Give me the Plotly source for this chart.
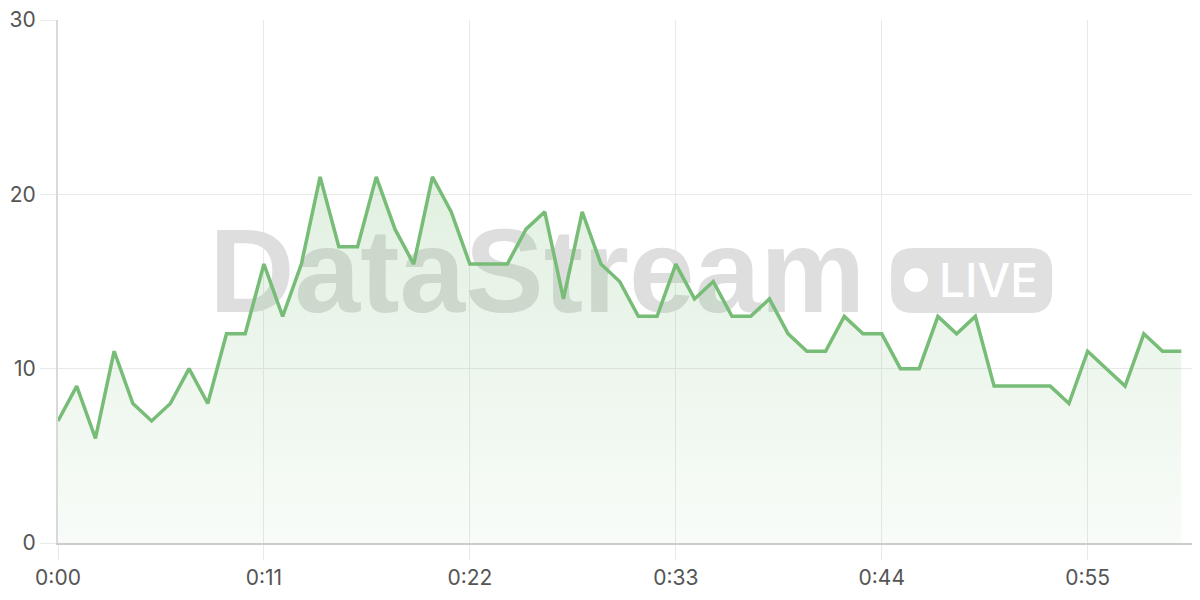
import plotly.graph_objects as go

# ---- data ----
seconds = list(range(61))
values = [7, 9, 6, 11, 8, 7, 8, 10, 8, 12, 12, 16, 13, 16, 21, 17, 17, 21, 18, 16,
          21, 19, 16, 16, 16, 18, 19, 14, 19, 16, 15, 13, 13, 16, 14, 15, 13, 13, 14, 12,
          11, 11, 13, 12, 12, 10, 10, 13, 12, 13, 9, 9, 9, 9, 8, 11, 10, 9, 12, 11, 11]
x_tick_vals = [0, 11, 22, 33, 44, 55]
x_tick_text = ["0:00", "0:11", "0:22", "0:33", "0:44", "0:55"]
y_tick_vals = [0, 10, 20, 30]
watermark_text = "DataStream"
badge_text = "LIVE"

LINE = "#77bc77"
GRID = "#e9e9e9"
TICKFONT = dict(family="Inter, Liberation Sans, sans-serif", size=21, color="#555555")

fig = go.Figure()

# watermark drawn beneath the data trace
fig.add_trace(go.Scatter(
    x=[25.6], y=[14.95], mode="text", text=[watermark_text],
    textposition="middle center",
    textfont=dict(family="Liberation Sans, Arial, sans-serif", size=118, color="#dedede", weight="bold"),
    hoverinfo="skip", showlegend=False,
))

fig.add_trace(go.Scatter(
    x=seconds, y=values, mode="lines",
    line=dict(color=LINE, width=3.5),
    fill="tozeroy",
    fillgradient=dict(type="vertical",
                      colorscale=[[0, "rgba(119,188,119,0.05)"], [1, "rgba(119,188,119,0.22)"]]),
    hoverinfo="skip", showlegend=False,
))

# LIVE badge
W, H, R = 80.5, 32.5, 22
pill = (f"M {-W+R},{-H} L {W-R},{-H} Q {W},{-H} {W},{-H+R} L {W},{H-R} Q {W},{H} {W-R},{H} "
        f"L {-W+R},{H} Q {-W},{H} {-W},{H-R} L {-W},{-H+R} Q {-W},{-H} {-W+R},{-H} Z")
fig.add_shape(type="path", path=pill, xref="paper", yref="paper",
              xsizemode="pixel", ysizemode="pixel", xanchor=0.80, yanchor=0.502,
              fillcolor="#e0e0e0", line=dict(width=0), layer="below")
fig.add_shape(type="circle", xref="paper", yref="paper",
              xsizemode="pixel", ysizemode="pixel", xanchor=0.7513, yanchor=0.503,
              x0=-12, x1=12, y0=-12, y1=12,
              fillcolor="#ffffff", line=dict(width=0), layer="below")
fig.add_annotation(text=badge_text, xref="paper", yref="paper", x=0.8146, y=0.503,
                   xanchor="center", yanchor="middle", showarrow=False,
                   font=dict(family="Inter, sans-serif", size=46, color="#ffffff", weight=500))

# page body has an 8px default margin; size the figure so the plot lands where the reference has it
fig.update_layout(
    width=1192, height=592,
    margin=dict(l=50, r=0, t=12, b=57),
    paper_bgcolor="#ffffff", plot_bgcolor="#ffffff",
    xaxis=dict(range=[0, 61], tickvals=x_tick_vals, ticktext=x_tick_text,
               showgrid=True, gridcolor=GRID, gridwidth=1, zeroline=False,
               showline=True, linecolor="#cccccc", linewidth=2,
               ticks="outside", ticklen=15, tickcolor=GRID, tickwidth=1,
               tickfont=TICKFONT, fixedrange=True, automargin=False,
               ticklabeloverflow="allow"),
    yaxis=dict(range=[0, 30], tickvals=y_tick_vals,
               showgrid=True, gridcolor=GRID, gridwidth=1, zeroline=False,
               showline=True, linecolor="#d9d9d9", linewidth=2,
               ticks="outside", ticklen=16, tickcolor=GRID, tickwidth=1,
               tickfont=TICKFONT, fixedrange=True, automargin=False,
               ticklabeloverflow="allow"),
)

fig.write_html("out.html")
